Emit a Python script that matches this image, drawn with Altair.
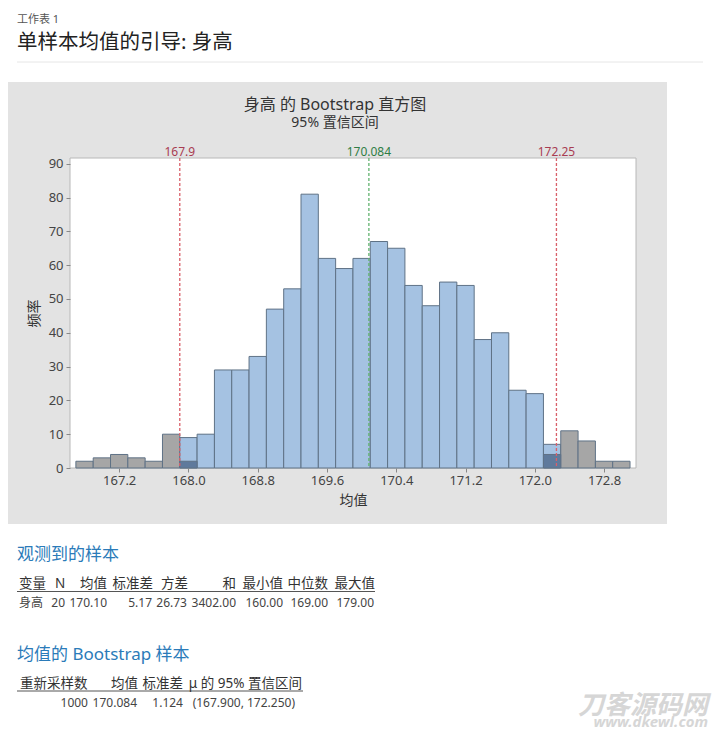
import altair as alt
import pandas as pd

FONT = "Noto Sans, Noto Sans CJK SC"

# page position of the plot area
LEFT = 70
TOP = 158
PLOT_W = 566
PLOT_H = 310

# histogram
bin_centers = [166.8, 167.0, 167.2, 167.4, 167.6, 167.8, 168.0, 168.2, 168.4, 168.6, 168.8,
               169.0, 169.2, 169.4, 169.6, 169.8, 170.0, 170.2, 170.4, 170.6, 170.8, 171.0,
               171.2, 171.4, 171.6, 171.8, 172.0, 172.2, 172.4, 172.6, 172.8, 173.0]
frequency = [2, 3, 4, 3, 2, 10, 9, 10, 29, 29, 33, 47, 53, 81, 62, 59, 62, 67, 65, 54, 48, 55,
             54, 38, 40, 23, 22, 7, 11, 8, 2, 2]
overlap_centers = [168.0, 172.2]
overlap_frequency = [2, 4]
bin_width = 0.2

ci_low = 167.9
ci_high = 172.25
boot_mean = 170.084
ref_values = [ci_low, boot_mean, ci_high]
ref_labels = ["167.9", "170.084", "172.25"]
ref_colors = ["#a83c52", "#2f7d45", "#a83c52"]
ref_line_colors = ["#d9606a", "#62b36f", "#d9606a"]

x_ticks = [167.2, 168.0, 168.8, 169.6, 170.4, 171.2, 172.0, 172.8]
y_ticks = [0, 10, 20, 30, 40, 50, 60, 70, 80, 90]

# tables: text, anchor x on the page
obs_header = [("变量", 19, "left"), ("N", 55, "left"), ("均值", 107, "right"), ("标准差", 153, "right"),
              ("方差", 188, "right"), ("和", 236, "right"), ("最小值", 283, "right"),
              ("中位数", 328, "right"), ("最大值", 375, "right")]
obs_row = [("身高", 19, "left"), ("20", 65, "right"), ("170.10", 107, "right"), ("5.17", 152, "right"),
           ("26.73", 187, "right"), ("3402.00", 236, "right"), ("160.00", 283, "right"),
           ("169.00", 328, "right"), ("179.00", 374, "right")]
boot_header = [("重新采样数", 20, "left"), ("均值", 138, "right"), ("标准差", 183, "right"),
               ("μ 的 95% 置信区间", 302, "right")]
boot_row = [("1000", 88, "right"), ("170.084", 137, "right"), ("1.124", 183, "right"),
            ("(167.900, 172.250)", 295, "right")]

one = pd.DataFrame({"a": [0]})


def label(text, x, y, size=13, color="#333333", align="left", **kw):
    # x, y are page pixels, y is the baseline
    return alt.Chart(pd.DataFrame({"t": [text]})).mark_text(
        font=FONT, fontSize=size, color=color, align=align, baseline="alphabetic", **kw
    ).encode(x=alt.value(x - LEFT), y=alt.value(y - TOP), text="t:N")


def box(x0, y0, x1, y1, fill, **kw):
    return alt.Chart(one).mark_rect(fill=fill, **kw).encode(
        x=alt.value(x0 - LEFT), x2=alt.value(x1 - LEFT),
        y=alt.value(y0 - TOP), y2=alt.value(y1 - TOP))


def hline(x0, x1, y, color, width=1.0):
    return alt.Chart(one).mark_rule(color=color, strokeWidth=width).encode(
        x=alt.value(x0 - LEFT), x2=alt.value(x1 - LEFT), y=alt.value(y - TOP))


bars = pd.DataFrame({"center": bin_centers, "freq": frequency})
bars["start"] = bars["center"] - bin_width / 2
bars["end"] = bars["center"] + bin_width / 2
bars["base"] = 0
bars["group"] = ["out" if c < ci_low or c > ci_high + 0.1 else "in" for c in bin_centers]

overlap = pd.DataFrame({"center": overlap_centers, "freq": overlap_frequency})
overlap["start"] = overlap["center"] - bin_width / 2
overlap["end"] = overlap["center"] + bin_width / 2
overlap["base"] = 0

refs = pd.DataFrame({"v": ref_values, "label": ref_labels, "color": ref_colors, "line": ref_line_colors})

x_axis = alt.Axis(values=x_ticks, format=".1f", title="均值", titleFont=FONT, titleFontSize=14,
                  titleFontWeight="normal", titleColor="#333333", titlePadding=6, labelFont=FONT,
                  labelFontSize=13, labelColor="#444444", tickColor="#888888", domain=False,
                  grid=False, tickSize=4, labelPadding=2, labelOverlap=False, zindex=1)
y_axis = alt.Axis(values=y_ticks, title="频率", titleFont=FONT, titleFontSize=14,
                  titleFontWeight="normal", titleColor="#333333", titlePadding=7, labelFont=FONT,
                  labelFontSize=13, labelColor="#444444", tickColor="#888888", domain=False,
                  grid=False, tickSize=4, labelPadding=3, labelOverlap=False, zindex=1)
x_scale = alt.Scale(domain=[166.632, 173.169], nice=False, zero=False)
y_scale = alt.Scale(domain=[0, 91.7], nice=False)

hist = alt.Chart(bars).mark_rect(stroke="#5f7286", strokeWidth=1).encode(
    x=alt.X("start:Q", scale=x_scale, axis=x_axis),
    x2="end:Q",
    y=alt.Y("freq:Q", scale=y_scale, axis=y_axis),
    y2="base:Q",
    fill=alt.Fill("group:N", scale=alt.Scale(domain=["in", "out"], range=["#a5c2e2", "#a6a6a6"]), legend=None),
)
dark = alt.Chart(overlap).mark_rect(fill="#5f7a9c", stroke="#5f7286", strokeWidth=1).encode(
    x=alt.X("start:Q", scale=x_scale, axis=x_axis),
    x2="end:Q",
    y=alt.Y("freq:Q", scale=y_scale, axis=y_axis),
    y2="base:Q",
)

ref_rules = alt.Chart(refs).mark_rule(strokeDash=[3, 2], strokeWidth=1.3).encode(
    x=alt.X("v:Q", scale=x_scale, axis=x_axis), color=alt.Color("line:N", scale=None))
ref_text = alt.Chart(refs).mark_text(font=FONT, fontSize=12, baseline="alphabetic", align="center").encode(
    x=alt.X("v:Q", scale=x_scale, axis=x_axis), y=alt.value(-2), text="label:N",
    color=alt.Color("color:N", scale=None))

layers = [
    box(4, 82, 667, 524, "#e3e3e3"),
    box(LEFT, TOP, LEFT + PLOT_W, TOP + PLOT_H, "#ffffff", stroke="#b8b8b8", strokeWidth=1),
    hist, dark, ref_rules, ref_text,
    label("工作表 1", 17, 23, size=11, color="#555555"),
    label("单样本均值的引导: 身高", 17, 49, size=20.5, color="#222222"),
    hline(17, 703, 62, "#e6e6e6"),
    label("身高 的 Bootstrap 直方图", 335, 110, size=16, color="#333333", align="center"),
    label("95% 置信区间", 335, 127, size=14, color="#333333", align="center"),
    label("观测到的样本", 17, 560, size=17, color="#2b7bb9"),
    label("均值的 Bootstrap 样本", 17, 660, size=17, color="#2b7bb9"),
    hline(17, 375, 591.5, "#555555"),
    hline(17, 303, 691, "#555555"),
    label("刀客源码网", 708, 714, size=26, color="#d6d6d6", align="right", fontWeight="bold", fontStyle="italic"),
    label("www.dkewl.com", 708, 727, size=15, color="#d6d6d6", align="right", fontWeight="bold", fontStyle="italic"),
]
for text, x, align in obs_header:
    layers.append(label(text, x, 588, size=13.5, align=align))
for text, x, align in obs_row:
    layers.append(label(text, x, 607, size=12, color="#444444", align=align))
for text, x, align in boot_header:
    layers.append(label(text, x, 688, size=13.5, align=align))
for text, x, align in boot_row:
    layers.append(label(text, x, 707, size=12, color="#444444", align=align))

# whole svg kept at 704x722 so the page does not grow past the 720x743 window
chart = alt.layer(*layers).resolve_scale(color="independent").properties(
    width=PLOT_W,
    height=PLOT_H,
    autosize=alt.AutoSizeParams(type="none"),
    padding={"left": LEFT - 8, "top": TOP - 8, "right": 76, "bottom": 262},
    background="#ffffff",
).configure_view(stroke=None)

chart.save("out.html", embed_options={"renderer": "svg", "actions": False})
